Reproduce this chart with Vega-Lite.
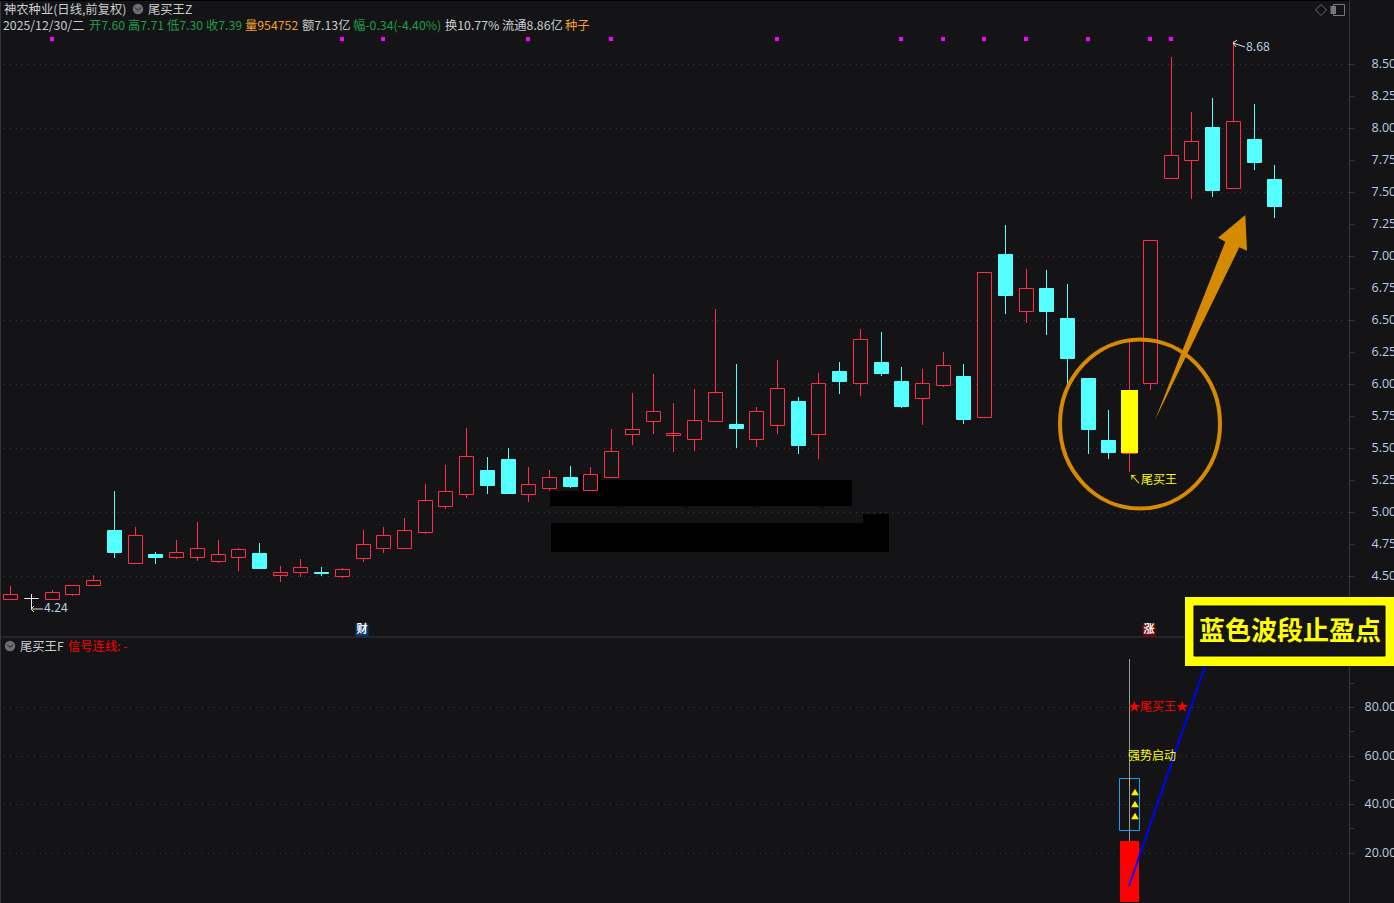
{
"$schema":"https://vega.github.io/schema/vega-lite/v6.json",
"width":1349,"height":903,
"autosize":"none",
"padding":{"left":0,"top":0,"right":45,"bottom":0},
"background":"#141416",
"config":{"view":{"stroke":null},"text":{"font":"Noto Sans CJK SC"},
"axis":{"domainColor":"#34363c","tickColor":"#34363c","tickSize":5,"labelColor":"#bccde0","labelFont":"Open Sans","labelFontSize":12.5,"labelOffset":-1,"labelAlign":"left","labelBaseline":"middle","grid":false,"labelOverlap":false,"labelBound":false,"labelFlush":false}},
"datasets":{
"candles":[
{"i":0,"open":4.32,"high":4.42,"low":4.32,"close":4.36,"dir":"up"},
{"i":1,"open":4.33,"high":4.36,"low":4.24,"close":4.33,"dir":"flat"},
{"i":2,"open":4.32,"high":4.39,"low":4.32,"close":4.37,"dir":"up"},
{"i":3,"open":4.36,"high":4.43,"low":4.34,"close":4.43,"dir":"up"},
{"i":4,"open":4.43,"high":4.51,"low":4.43,"close":4.47,"dir":"up"},
{"i":5,"open":4.86,"high":5.16,"low":4.64,"close":4.69,"dir":"down"},
{"i":6,"open":4.60,"high":4.88,"low":4.59,"close":4.82,"dir":"up"},
{"i":7,"open":4.67,"high":4.69,"low":4.59,"close":4.65,"dir":"down"},
{"i":8,"open":4.65,"high":4.78,"low":4.63,"close":4.69,"dir":"up"},
{"i":9,"open":4.65,"high":4.92,"low":4.62,"close":4.72,"dir":"up"},
{"i":10,"open":4.62,"high":4.78,"low":4.60,"close":4.67,"dir":"up"},
{"i":11,"open":4.65,"high":4.72,"low":4.54,"close":4.71,"dir":"up"},
{"i":12,"open":4.68,"high":4.76,"low":4.56,"close":4.56,"dir":"down"},
{"i":13,"open":4.51,"high":4.58,"low":4.45,"close":4.53,"dir":"up"},
{"i":14,"open":4.53,"high":4.63,"low":4.49,"close":4.57,"dir":"up"},
{"i":15,"open":4.53,"high":4.57,"low":4.50,"close":4.52,"dir":"down"},
{"i":16,"open":4.50,"high":4.56,"low":4.48,"close":4.55,"dir":"up"},
{"i":17,"open":4.64,"high":4.86,"low":4.61,"close":4.75,"dir":"up"},
{"i":18,"open":4.72,"high":4.88,"low":4.68,"close":4.82,"dir":"up"},
{"i":19,"open":4.72,"high":4.95,"low":4.71,"close":4.86,"dir":"up"},
{"i":20,"open":4.84,"high":5.22,"low":4.83,"close":5.09,"dir":"up"},
{"i":21,"open":5.05,"high":5.37,"low":5.02,"close":5.16,"dir":"up"},
{"i":22,"open":5.14,"high":5.66,"low":5.11,"close":5.44,"dir":"up"},
{"i":23,"open":5.33,"high":5.43,"low":5.14,"close":5.21,"dir":"down"},
{"i":24,"open":5.41,"high":5.50,"low":5.15,"close":5.15,"dir":"down"},
{"i":25,"open":5.14,"high":5.35,"low":5.08,"close":5.22,"dir":"up"},
{"i":26,"open":5.19,"high":5.33,"low":5.16,"close":5.27,"dir":"up"},
{"i":27,"open":5.27,"high":5.36,"low":5.19,"close":5.20,"dir":"down"},
{"i":28,"open":5.17,"high":5.35,"low":5.16,"close":5.30,"dir":"up"},
{"i":29,"open":5.27,"high":5.65,"low":5.27,"close":5.48,"dir":"up"},
{"i":30,"open":5.61,"high":5.93,"low":5.52,"close":5.65,"dir":"up"},
{"i":31,"open":5.71,"high":6.08,"low":5.61,"close":5.79,"dir":"up"},
{"i":32,"open":5.60,"high":5.85,"low":5.47,"close":5.62,"dir":"up"},
{"i":33,"open":5.57,"high":5.96,"low":5.48,"close":5.72,"dir":"up"},
{"i":34,"open":5.71,"high":6.59,"low":5.70,"close":5.94,"dir":"up"},
{"i":35,"open":5.69,"high":6.16,"low":5.50,"close":5.66,"dir":"down"},
{"i":36,"open":5.57,"high":5.82,"low":5.51,"close":5.79,"dir":"up"},
{"i":37,"open":5.68,"high":6.19,"low":5.61,"close":5.97,"dir":"up"},
{"i":38,"open":5.87,"high":5.90,"low":5.45,"close":5.52,"dir":"down"},
{"i":39,"open":5.61,"high":6.09,"low":5.41,"close":6.01,"dir":"up"},
{"i":40,"open":6.10,"high":6.17,"low":5.92,"close":6.02,"dir":"down"},
{"i":41,"open":6.01,"high":6.43,"low":5.91,"close":6.35,"dir":"up"},
{"i":42,"open":6.17,"high":6.41,"low":6.06,"close":6.09,"dir":"down"},
{"i":43,"open":6.02,"high":6.13,"low":5.81,"close":5.83,"dir":"down"},
{"i":44,"open":5.89,"high":6.12,"low":5.68,"close":6.01,"dir":"up"},
{"i":45,"open":5.99,"high":6.25,"low":5.98,"close":6.15,"dir":"up"},
{"i":46,"open":6.06,"high":6.16,"low":5.69,"close":5.73,"dir":"down"},
{"i":47,"open":5.74,"high":6.88,"low":5.74,"close":6.88,"dir":"up"},
{"i":48,"open":7.02,"high":7.24,"low":6.55,"close":6.70,"dir":"down"},
{"i":49,"open":6.57,"high":6.90,"low":6.48,"close":6.75,"dir":"up"},
{"i":50,"open":6.75,"high":6.89,"low":6.38,"close":6.57,"dir":"down"},
{"i":51,"open":6.52,"high":6.78,"low":5.99,"close":6.20,"dir":"down"},
{"i":52,"open":6.05,"high":6.05,"low":5.45,"close":5.65,"dir":"down"},
{"i":53,"open":5.56,"high":5.80,"low":5.41,"close":5.47,"dir":"down"},
{"i":54,"open":5.46,"high":6.34,"low":5.31,"close":5.95,"dir":"up"},
{"i":55,"open":6.01,"high":7.13,"low":5.95,"close":7.13,"dir":"up"},
{"i":56,"open":7.61,"high":8.56,"low":7.61,"close":7.79,"dir":"up"},
{"i":57,"open":7.75,"high":8.13,"low":7.45,"close":7.90,"dir":"up"},
{"i":58,"open":8.01,"high":8.24,"low":7.46,"close":7.52,"dir":"down"},
{"i":59,"open":7.53,"high":8.68,"low":7.53,"close":8.06,"dir":"up"},
{"i":60,"open":7.92,"high":8.19,"low":7.67,"close":7.74,"dir":"down"},
{"i":61,"open":7.60,"high":7.71,"low":7.30,"close":7.39,"dir":"down"}
],
"signals":[{"i":2},{"i":16},{"i":18},{"i":25},{"i":29},{"i":37},{"i":43},{"i":45},{"i":47},{"i":49},{"i":52},{"i":55},{"i":56}],
"grid":[{"p":4.5},{"p":5},{"p":5.5},{"p":6},{"p":6.5},{"p":7},{"p":7.5},{"p":8},{"p":8.5}],
"masks":[
{"a":28.03,"b":40.6,"hi":5.25,"lo":5.05},
{"a":26.03,"b":28.5,"hi":5.16,"lo":5.05},
{"a":27.43,"b":28.5,"hi":5.30,"lo":5.05},
{"a":26.08,"b":42.4,"hi":4.91,"lo":4.69},
{"a":41.14,"b":42.4,"hi":4.98,"lo":4.9}
],
"maskTicks":[{"i":26.03,"hi":5.05,"lo":5.03},{"i":29.31,"hi":5.05,"lo":5.03},{"i":32.6,"hi":5.05,"lo":5.03},{"i":35.87,"hi":5.05,"lo":5.03},{"i":39.16,"hi":5.05,"lo":5.03}],
"labels":[
{"t":"神农种业(日线,前复权)","i":-0.30,"p":8.921,"c":"light"},
{"t":"尾买王Z","i":6.64,"p":8.921,"c":"light"},
{"t":"2025/12/30/二","i":-0.35,"p":8.796,"c":"light"},
{"t":"开7.60","i":3.80,"p":8.796,"c":"green"},
{"t":"高7.71","i":5.68,"p":8.796,"c":"green"},
{"t":"低7.30","i":7.56,"p":8.796,"c":"green"},
{"t":"收7.39","i":9.44,"p":8.796,"c":"green"},
{"t":"量954752","i":11.32,"p":8.796,"c":"orange"},
{"t":"额7.13亿","i":14.07,"p":8.796,"c":"light"},
{"t":"幅-0.34(-4.40%)","i":16.53,"p":8.796,"c":"green"},
{"t":"换10.77%","i":20.97,"p":8.796,"c":"light"},
{"t":"流通8.86亿","i":23.72,"p":8.796,"c":"light"},
{"t":"种子","i":26.76,"p":8.796,"c":"orange"},
{"t":"4.24","i":1.63,"p":4.249,"c":"axis"},
{"t":"8.68","i":59.66,"p":8.632,"c":"axis"},
{"t":"尾买王F","i":0.47,"p":3.944,"c":"light"},
{"t":"信号连线: -","i":2.78,"p":3.944,"c":"red"}
],
"badges":[{"t":"财","i":16.97,"p":4.077,"k":"finance"},{"t":"涨","i":54.95,"p":4.077,"k":"rise"}],
"discs":[{"i":6.16,"p":8.929},{"i":-0.01,"p":3.952}],
"glyphs":[
{"k":"chevron","i":6.16,"p":8.929},
{"k":"chevron","i":-0.01,"p":3.952},
{"k":"diamond","i":63.25,"p":8.921},
{"k":"panel","i":64.14,"p":8.921},
{"k":"arrowLow","i":1.0,"p":4.24},
{"k":"arrowHigh","i":59,"p":8.67}
],
"indicator":[{"i":54,"top":99.8,"bottom":24.8,"boxTop":50.75,"boxBottom":29.3,"barTop":24.8,"barBottom":-0.4,"tickTop":50.75,"tickBottom":47.4}],
"triangles":[{"i":54.26,"v":45},{"i":54.26,"v":40},{"i":54.26,"v":35}],
"signalLine":[{"i":54,"v":6.2},{"i":58,"v":105.3}],
"gridLower":[{"v":20},{"v":40},{"v":60},{"v":80}],
"lowerLabels":[{"t":"★尾买王★","i":53.96,"v":79.9,"c":"red"},{"t":"强势启动","i":53.96,"v":59.7,"c":"yellow"},{"t":"↖尾买王","i":54,"v":173.6,"c":"yellow"}]
},
"layer":[
{"layer":[
 {"data":{"values":[{"p":4.022}]},"mark":{"type":"rule","stroke":"#34363c","strokeWidth":1},
  "encoding":{"y":{"field":"p","type":"quantitative","scale":{"domain":[1.942,9.003],"nice":false,"zero":false,"round":true},
   "axis":{"title":null,"values":[4.5,4.75,5,5.25,5.5,5.75,6,6.25,6.5,6.75,7,7.25,7.5,7.75,8,8.25,8.5],"format":".2f","orient":"right","labelPadding":17}}}},
 {"data":{"name":"grid"},"mark":{"type":"rule","stroke":"#3e3e42","strokeWidth":1,"strokeDash":[1,5],"yOffset":0.5},
  "encoding":{"y":{"field":"p","type":"quantitative"}}},
 {"data":{"name":"masks"},"mark":{"type":"rect","fill":"#000000"},
  "encoding":{"x":{"field":"a","type":"quantitative","axis":null,"scale":{"domain":[-0.4971,64.609],"nice":false,"zero":false,"padding":0,"round":true}},"x2":{"field":"b"},"y":{"field":"hi","type":"quantitative"},"y2":{"field":"lo"}}},
 {"data":{"name":"maskTicks"},"mark":{"type":"rule","stroke":"#000000","xOffset":0.5},
  "encoding":{"x":{"field":"i","type":"quantitative","axis":null},"y":{"field":"hi","type":"quantitative"},"y2":{"field":"lo"}}},
 {"data":{"name":"candles"},"mark":{"type":"rule","strokeWidth":1,"xOffset":0.5},
  "encoding":{"x":{"field":"i","type":"quantitative","axis":null},"y":{"field":"high","type":"quantitative"},"y2":{"field":"low"},
   "stroke":{"field":"dir","type":"nominal","legend":null,"scale":{"domain":["up","down","flat","chevron","diamond","panel","arrowLow","arrowHigh"],"range":["#ff2d4a","#54ffff","#e8e8e8","#1c1c1e","#6a6a6e","#77777b","#e0e0e0","#e0e0e0"]}}}},
 {"data":{"name":"candles"},"mark":{"type":"bar","size":14,"strokeWidth":1,"xOffset":0.5,"yOffset":0.5,"y2Offset":0.5},
  "encoding":{"x":{"field":"i","type":"quantitative","axis":null},"y":{"field":"open","type":"quantitative"},"y2":{"field":"close"},
   "stroke":{"field":"dir","type":"nominal","legend":null},
   "fill":{"field":"dir","type":"nominal","legend":null,"scale":{"domain":["up","down","flat","finance","rise"],"range":["#141416","#54ffff","#e8e8e8","#0b3a6b","#6e0808"]}}}},
 {"data":{"values":[{"i":54,"open":5.46,"close":5.95}]},"mark":{"type":"bar","size":17,"fill":"#ffff00","xOffset":0.5},
  "encoding":{"x":{"field":"i","type":"quantitative","axis":null},"y":{"field":"open","type":"quantitative"},"y2":{"field":"close"}}},
 {"data":{"name":"signals"},"mark":{"type":"square","size":16,"fill":"#ff00ff","opacity":1},
  "encoding":{"x":{"field":"i","type":"quantitative","axis":null},"y":{"datum":8.70,"type":"quantitative"}}},
 {"data":{"values":[{"i":54.52,"p":5.684}]},"mark":{"type":"point","filled":false,"size":4,"stroke":"#d68a00","strokeWidth":4,"opacity":1,
   "shape":"M-80,0A80,84.5 0 1,1 80,0A80,84.5 0 1,1 -80,0Z"},
  "encoding":{"x":{"field":"i","type":"quantitative","axis":null},"y":{"field":"p","type":"quantitative"}}},
 {"data":{"values":[{"i":55.25,"p":5.719}]},"mark":{"type":"point","filled":true,"size":4,"fill":"#d68a00","opacity":1,
   "shape":"M0,0L70.3,-178.3L63,-182.3L90.3,-205L92,-169.3L84.3,-172.7Z"},
  "encoding":{"x":{"field":"i","type":"quantitative","axis":null},"y":{"field":"p","type":"quantitative"}}},
 {"data":{"name":"discs"},"mark":{"type":"circle","size":110,"fill":"#6e6e72","opacity":1},
  "encoding":{"x":{"field":"i","type":"quantitative","axis":null},"y":{"field":"p","type":"quantitative"}}},
 {"data":{"values":[{"i":63.95,"p":8.921}]},"mark":{"type":"point","filled":true,"size":4,"fill":"#77777b","opacity":1,"shape":"M-4.5,-4H1V4H-4.5Z"},
  "encoding":{"x":{"field":"i","type":"quantitative","axis":null},"y":{"field":"p","type":"quantitative"}}},
 {"data":{"name":"glyphs"},"mark":{"type":"point","filled":false,"size":4,"strokeWidth":1,"opacity":1},
  "encoding":{"x":{"field":"i","type":"quantitative","axis":null},"y":{"field":"p","type":"quantitative"},
   "shape":{"field":"k","type":"nominal","legend":null,"scale":{"domain":["chevron","diamond","panel","arrowLow","arrowHigh"],"range":["M-3,-1.5L0,1.5L3,-1.5","M-5.5,0L0,-5.5L5.5,0L0,5.5Z","M-5.5,-5.5H5.5V5.5H-5.5Z","M0,0L12,0M0,0L3,-3M0,0L3,3","M0,0L12,4M0,0L4,-3M0,0L3,4"]}},
   "stroke":{"field":"k","type":"nominal","legend":null}}},
 {"data":{"name":"badges"},"mark":{"type":"square","size":169,"opacity":1},
  "encoding":{"x":{"field":"i","type":"quantitative","axis":null},"y":{"field":"p","type":"quantitative"},
   "fill":{"field":"k","type":"nominal","legend":null}}},
 {"data":{"name":"badges"},"mark":{"type":"text","fontSize":11,"fontWeight":"bold","color":"#ffffff","align":"center","baseline":"middle"},
  "encoding":{"text":{"field":"t"},"x":{"field":"i","type":"quantitative","axis":null},"y":{"field":"p","type":"quantitative"}}},
 {"data":{"name":"labels"},"mark":{"type":"text","fontSize":12.3,"align":"left","baseline":"middle"},
  "encoding":{"text":{"field":"t"},"x":{"field":"i","type":"quantitative","axis":null},"y":{"field":"p","type":"quantitative"},
   "color":{"field":"c","type":"nominal","legend":null,"scale":{"domain":["light","green","orange","axis","yellow","red"],"range":["#c8ccd0","#1e9a4c","#f0a030","#bccde0","#ffff00","#ff0000"]}}}},
 {"data":{"values":[{"edge":-0.4971}]},"mark":{"type":"rule","stroke":"#34363c","strokeWidth":2},
  "encoding":{"x":{"field":"edge","type":"quantitative","axis":null}}},
 {"data":{"values":[{"edge":9.003}]},"mark":{"type":"rule","stroke":"#000000","strokeWidth":2},
  "encoding":{"y":{"field":"edge","type":"quantitative"}}}
]},
{"layer":[
 {"data":{"name":"gridLower"},"mark":{"type":"rule","stroke":"#3e3e42","strokeWidth":1,"strokeDash":[1,5],"yOffset":0.5},
  "encoding":{"y":{"field":"v","type":"quantitative","scale":{"domain":[-0.8,371.5],"nice":false,"zero":false,"round":true},
   "axis":{"title":null,"values":[20,30,40,50,60,70,80,90,100],"orient":"right","labelExpr":"datum.value % 20 === 0 ? format(datum.value, '.2f') : ''","labelPadding":10}}}},
 {"data":{"name":"indicator"},"mark":{"type":"rule","stroke":"#9a9a9a","strokeWidth":1,"xOffset":0.5},
  "encoding":{"x":{"field":"i","type":"quantitative","axis":null},"y":{"field":"top","type":"quantitative"},"y2":{"field":"bottom"}}},
 {"data":{"name":"indicator"},"mark":{"type":"bar","size":19,"fill":"#ff0000","xOffset":0.5},
  "encoding":{"x":{"field":"i","type":"quantitative","axis":null},"y":{"field":"barTop","type":"quantitative"},"y2":{"field":"barBottom"}}},
 {"data":{"name":"indicator"},"mark":{"type":"bar","size":20,"fill":"#141416","fillOpacity":0,"stroke":"#18a0f0","strokeWidth":1,"xOffset":0.5,"yOffset":0.5,"y2Offset":0.5},
  "encoding":{"x":{"field":"i","type":"quantitative","axis":null},"y":{"field":"boxTop","type":"quantitative"},"y2":{"field":"boxBottom"}}},
 {"data":{"name":"indicator"},"mark":{"type":"rule","stroke":"#e8a060","strokeWidth":1,"xOffset":0.5},
  "encoding":{"x":{"field":"i","type":"quantitative","axis":null},"y":{"field":"tickTop","type":"quantitative"},"y2":{"field":"tickBottom"}}},
 {"data":{"name":"triangles"},"mark":{"type":"point","shape":"triangle-up","filled":true,"size":60,"fill":"#ffee00","opacity":1},
  "encoding":{"x":{"field":"i","type":"quantitative","axis":null},"y":{"field":"v","type":"quantitative"}}},
 {"data":{"name":"signalLine"},"mark":{"type":"line","stroke":"#0000ff","strokeWidth":2},
  "encoding":{"x":{"field":"i","type":"quantitative","axis":null},"y":{"field":"v","type":"quantitative"}}},
 {"data":{"name":"lowerLabels"},"mark":{"type":"text","fontSize":12,"align":"left","baseline":"middle"},
  "encoding":{"text":{"field":"t"},"x":{"field":"i","type":"quantitative","axis":null},"y":{"field":"v","type":"quantitative"},
   "color":{"field":"c","type":"nominal","legend":null}}},
 {"data":{"values":[{"a":56.67,"b":67,"hi":125.4,"lo":96.9}]},"mark":{"type":"rect","fill":"#ffff00"},
  "encoding":{"x":{"field":"a","type":"quantitative","axis":null},"x2":{"field":"b"},"y":{"field":"hi","type":"quantitative"},"y2":{"field":"lo"}}},
 {"data":{"values":[{"a":57.13,"b":66.37,"hi":121.7,"lo":101.1}]},"mark":{"type":"rect","fill":"#141416","stroke":"#000000","strokeWidth":1},
  "encoding":{"x":{"field":"a","type":"quantitative","axis":null},"x2":{"field":"b"},"y":{"field":"hi","type":"quantitative"},"y2":{"field":"lo"}}},
 {"data":{"values":[{"t":"蓝色波段止盈点","i":61.75,"v":111}]},"mark":{"type":"text","fontSize":26,"fontWeight":"bold","color":"#ffff00","align":"center","baseline":"middle"},
  "encoding":{"text":{"field":"t"},"x":{"field":"i","type":"quantitative","axis":null},"y":{"field":"v","type":"quantitative"}}}
]}
],
"resolve":{"scale":{"y":"independent"},"axis":{"y":"independent"}}
}
